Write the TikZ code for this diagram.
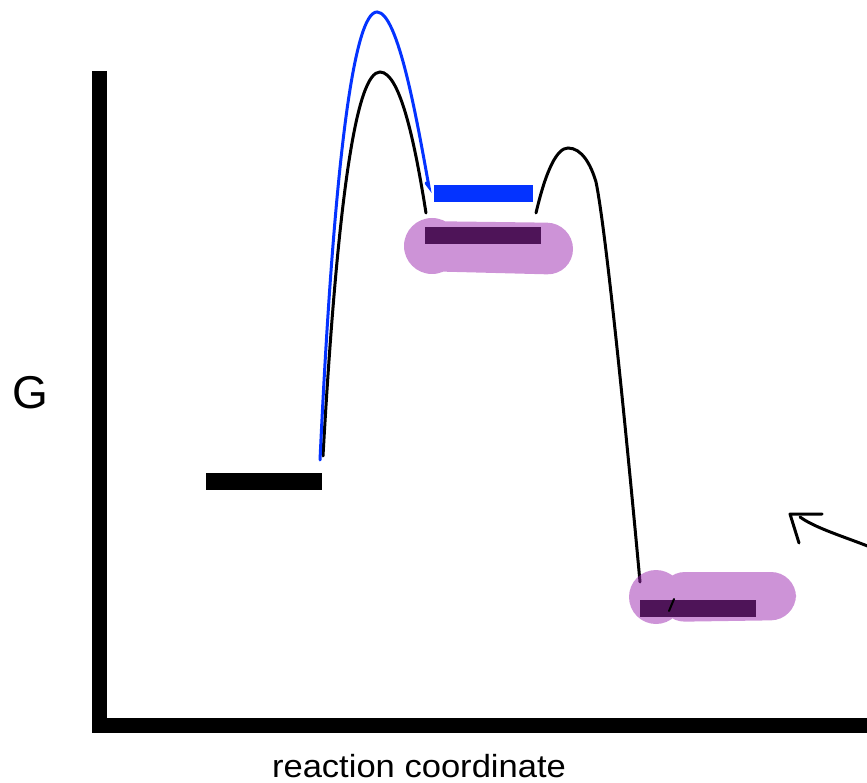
\documentclass[tikz,border=0pt]{standalone}
\usepackage{fontspec}
\setmainfont{Liberation Sans}
\definecolor{eblue}{RGB}{4,51,255}
\definecolor{hl}{RGB}{156,40,176}
\begin{document}
\begin{tikzpicture}[x=1pt,y=-1pt,
  curve/.style={line width=3pt,line cap=round},
  lvl/.style={fill=black},
  blob/.style={fill=hl,fill opacity=0.5,nonzero rule},
  lbl/.style={inner sep=0pt,font=\fontsize{#1}{#1}\selectfont}]
\useasboundingbox (0,0) rectangle (867,783);
% axes
\draw[line width=15pt,miter limit=10] (99,71) -- (99,725.5) -- (880,725.5);
% labels
\node[lbl=46,anchor=base] (G) at (30,408) {G};
\node[lbl=32,anchor=base,xscale=1.08] (rc) at (419,777) {reaction coordinate};
% level bars
\fill[lvl] (206,473) rectangle (322,490);
\fill[eblue] (434,185) rectangle (533,202);
\fill[lvl] (425,227) rectangle (541,244);
\fill[lvl] (640,600) rectangle (756,617);
% curves
\draw[curve] (323,456) .. controls (338,190) and (357,72) .. (380,72)
   .. controls (401,72) and (416,150) .. (426,213);
\draw[curve,eblue] (320,460) .. controls (334,160) and (354,12) .. (377,12)
   .. controls (398,12) and (417,120) .. (429,187) -- (426,183);
\draw[curve] (536,213) .. controls (546,170) and (557,148) .. (568,148)
   .. controls (582,148) and (591,165) .. (596,182)
   .. controls (606,230) and (627,440) .. (640,582);
% highlight blobs (one path each, so overlaps are filled once)
\path[blob] (432,246) circle (28)
   [rounded corners=26] (418,221) -- (573,223) -- (573,275) -- (418,271) -- cycle;
\path[blob] (656,597) circle (27)
   [rounded corners=25] (660,572) -- (796,572) -- (796,620) -- (660,622) -- cycle;
% tiny stroke
\draw[line width=2pt,line cap=round] (669,611) -- (674,599);
% arrow
\coordinate (tip) at (790,514);
\draw[curve] (870,547) .. controls (845,537) and (815,528) .. (800,517);
\draw[curve,line join=round] (822,514) -- (tip) -- (799,543);
\end{tikzpicture}
\end{document}
